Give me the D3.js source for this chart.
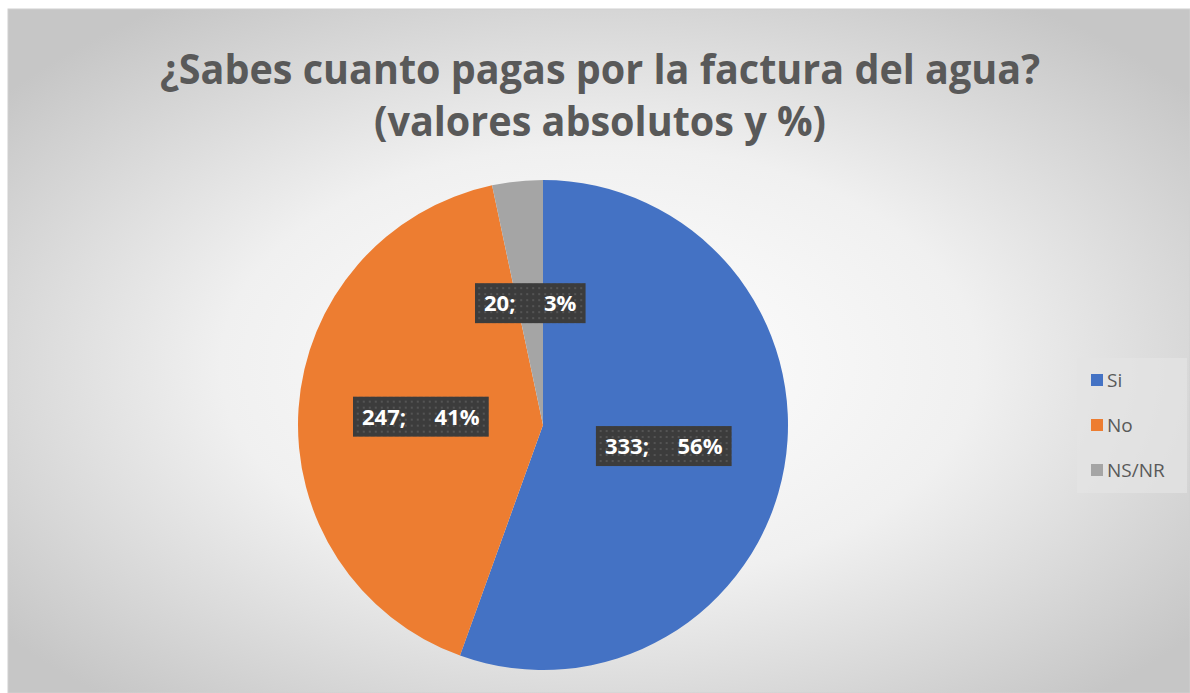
<!DOCTYPE html>
<html><head><meta charset="utf-8">
<script src="https://cdn.jsdelivr.net/npm/d3@7"></script>
<style>html,body{margin:0;padding:0;background:#fff;overflow:hidden}</style>
</head><body>
<svg id="chart" width="1190" height="693"></svg>
<script>
const categories = ["Si", "No", "NS/NR"];
const values = [333, 247, 20];
const percentLabels = ["56%", "41%", "3%"];
const colors = ["#4472C4", "#ED7D31", "#A5A5A5"];
const titleLines = ["¿Sabes cuanto pagas por la factura del agua?", "(valores absolutos y %)"];

const svg = d3.select("#chart");
const defs = svg.append("defs");
const grad = defs.append("radialGradient").attr("id", "bg")
  .attr("cx", "50%").attr("cy", "52%").attr("r", "64%");
grad.append("stop").attr("offset", "0%").attr("stop-color", "#ffffff");
grad.append("stop").attr("offset", "50%").attr("stop-color", "#f0f0f0");
grad.append("stop").attr("offset", "100%").attr("stop-color", "#c6c6c6");

const pat = defs.append("pattern").attr("id", "dots").attr("patternUnits", "userSpaceOnUse")
  .attr("width", 6).attr("height", 6);
pat.append("rect").attr("width", 6).attr("height", 6).attr("fill", "#3c3c3c");
pat.append("rect").attr("x", 2).attr("y", 2).attr("width", 2).attr("height", 2).attr("fill", "#545454");

svg.append("rect").attr("x", 8).attr("y", 9).attr("width", 1190 - 8).attr("height", 693 - 9)
  .attr("fill", "url(#bg)").attr("stroke", "#d0d0d0").attr("stroke-width", 1);

// Title
const title = svg.append("g").attr("fill", "#595959")
  .style("font-family", "'Open Sans', 'Liberation Sans', sans-serif").style("font-weight", "bold");
title.append("text").attr("x", 600).attr("y", 84).attr("text-anchor", "middle")
  .attr("font-size", 41).attr("textLength", 880).attr("lengthAdjust", "spacingAndGlyphs").text(titleLines[0]);
title.append("text").attr("x", 600).attr("y", 136).attr("text-anchor", "middle")
  .attr("font-size", 41).attr("textLength", 452).attr("lengthAdjust", "spacingAndGlyphs").text(titleLines[1]);

// Pie
const cx = 543, cy = 425, R = 245;
const pie = d3.pie().sort(null).value(d => d)(values);
const arc = d3.arc().innerRadius(0).outerRadius(R);
const g = svg.append("g").attr("transform", `translate(${cx},${cy})`);
g.selectAll("path").data(pie).join("path").attr("d", arc).attr("fill", (d, i) => colors[i]);

// Labels
const lab = g.selectAll("g.lab").data(pie).join("g").attr("class", "lab")
  .attr("transform", d => { const c = arc.centroid(d); return `translate(${c[0]},${c[1]})`; });
lab.each(function(d, i) {
  const s = d3.select(this);
  const rect = s.append("rect").attr("fill", "url(#dots)");
  const t = s.append("text").attr("text-anchor", "middle").attr("dy", "0.36em")
    .attr("fill", "#ffffff").style("font-family", "'Open Sans', 'Liberation Sans', sans-serif")
    .style("font-weight", "bold").attr("font-size", 22).style("white-space", "pre")
    .text(values[i] + ";     " + percentLabels[i]);
  const bb = t.node().getBBox();
  const padX = 9;
  rect.attr("x", bb.x - padX).attr("y", -20).attr("width", bb.width + 2 * padX).attr("height", 40);
});

// Legend
const lg = svg.append("g");
lg.append("rect").attr("x", 1077).attr("y", 358).attr("width", 110).attr("height", 135)
  .attr("fill", "#e4e4e4").attr("opacity", 0.7);
const items = lg.selectAll("g.item").data(categories).join("g").attr("class", "item")
  .attr("transform", (d, i) => `translate(1091, ${380 + i * 45})`);
items.append("rect").attr("x", 0).attr("y", -6).attr("width", 12).attr("height", 12)
  .attr("fill", (d, i) => colors[i]);
items.append("text").attr("x", 16).attr("dy", "0.35em").attr("fill", "#595959")
  .style("font-family", "'Open Sans', 'Liberation Sans', sans-serif").attr("font-size", 19)
  .text(d => d);
</script>
</body></html>
